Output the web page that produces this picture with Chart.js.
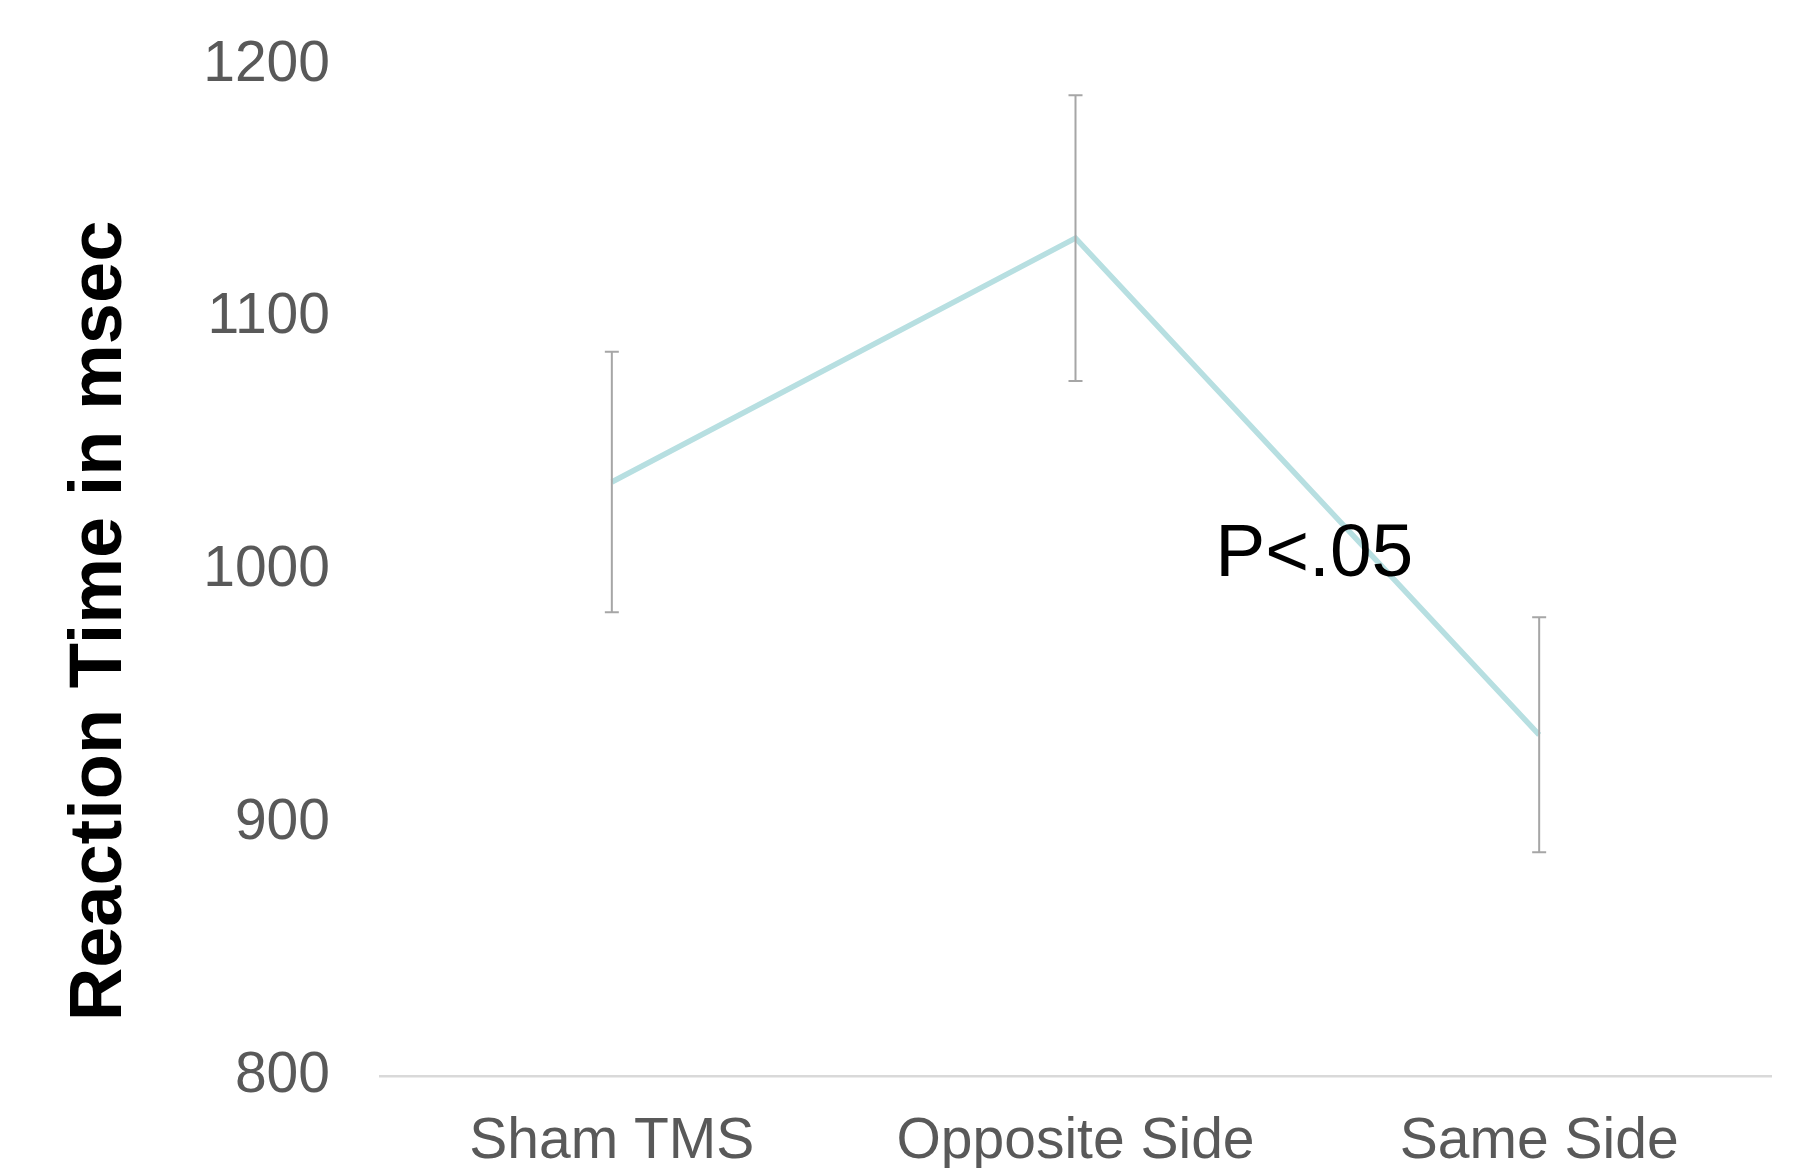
<!DOCTYPE html>
<html>
<head>
<meta charset="utf-8">
<script src="https://cdn.jsdelivr.net/npm/chart.js@4.4.1/dist/chart.umd.min.js"></script>
<style>
  html, body { margin: 0; padding: 0; background: #ffffff; }
  #wrap { width: 1797px; height: 1168px; }
</style>
</head>
<body>
<div id="wrap"><canvas id="rt"></canvas></div>
<script>
// Mean reaction time per TMS condition, with error bar half-widths
const categories = ['Sham TMS', 'Opposite Side', 'Same Side'];
const meanRT = [1035, 1131.5, 935];
const errorRT = [51.5, 56.5, 46.5];
const yTicks = [800, 900, 1000, 1100, 1200];
const axisTitle = 'Reaction Time in msec';
const noteText = 'P<.05';
const notePos = { x: 1.515, y: 1006 };

const FONT = '"Liberation Sans", Arial, Helvetica, sans-serif';

// Vertical error bars with end caps, drawn through the chart's scales
const errorBars = {
  id: 'errorBars',
  afterDatasetsDraw(chart) {
    const { ctx, scales: { x, y } } = chart;
    ctx.save();
    ctx.strokeStyle = '#a6a6a6';
    ctx.lineWidth = 2;
    const cap = 7;
    meanRT.forEach((m, i) => {
      const px = x.getPixelForValue(i);
      const top = y.getPixelForValue(m + errorRT[i]);
      const bot = y.getPixelForValue(m - errorRT[i]);
      ctx.beginPath();
      ctx.moveTo(px, top); ctx.lineTo(px, bot);
      ctx.moveTo(px - cap, top); ctx.lineTo(px + cap, top);
      ctx.moveTo(px - cap, bot); ctx.lineTo(px + cap, bot);
      ctx.stroke();
    });
    ctx.restore();
  }
};

// Significance note and rotated y-axis title
const textLayer = {
  id: 'textLayer',
  afterDraw(chart) {
    const { ctx, scales: { x, y } } = chart;
    ctx.save();
    ctx.fillStyle = '#000000';
    ctx.font = '75px ' + FONT;
    ctx.textAlign = 'center';
    ctx.textBaseline = 'middle';
    ctx.fillText(noteText, x.getPixelForValue(notePos.x), y.getPixelForValue(notePos.y));

    ctx.translate(101, 621);
    ctx.rotate(-Math.PI / 2);
    ctx.font = 'bold 74px ' + FONT;
    ctx.fillText(axisTitle, 0, 0);
    ctx.restore();
  }
};

new Chart(document.getElementById('rt'), {
  type: 'line',
  data: {
    labels: categories,
    datasets: [{
      data: meanRT,
      borderColor: '#b7dfe1',
      borderWidth: 5.5,
      pointRadius: 0,
      tension: 0,
      fill: false
    }]
  },
  options: {
    responsive: true,
    maintainAspectRatio: false,
    animation: false,
    devicePixelRatio: 1,
    layout: { padding: { top: 65, right: 26, bottom: 0, left: 0 } },
    plugins: { legend: { display: false }, tooltip: { enabled: false } },
    scales: {
      x: {
        type: 'category',
        offset: true,
        grid: { display: false, drawTicks: false },
        border: { display: true, color: '#d9d9d9', width: 2.5 },
        ticks: { color: '#595959', font: { family: FONT, size: 57 }, padding: 32, maxRotation: 0 },
        afterFit(scale) { scale.height = 92; }
      },
      y: {
        min: 800,
        max: 1200,
        afterBuildTicks(scale) { scale.ticks = yTicks.map(v => ({ value: v })); },
        grid: { display: false, drawTicks: false },
        border: { display: false },
        ticks: {
          color: '#595959',
          font: { family: FONT, size: 57 },
          padding: 50,
          callback: (v) => String(v)
        },
        afterFit(scale) {
          scale.width = 380;
          scale.paddingTop = 0;
          scale.paddingBottom = 0;
        }
      }
    }
  },
  plugins: [errorBars, textLayer]
});
</script>
</body>
</html>
